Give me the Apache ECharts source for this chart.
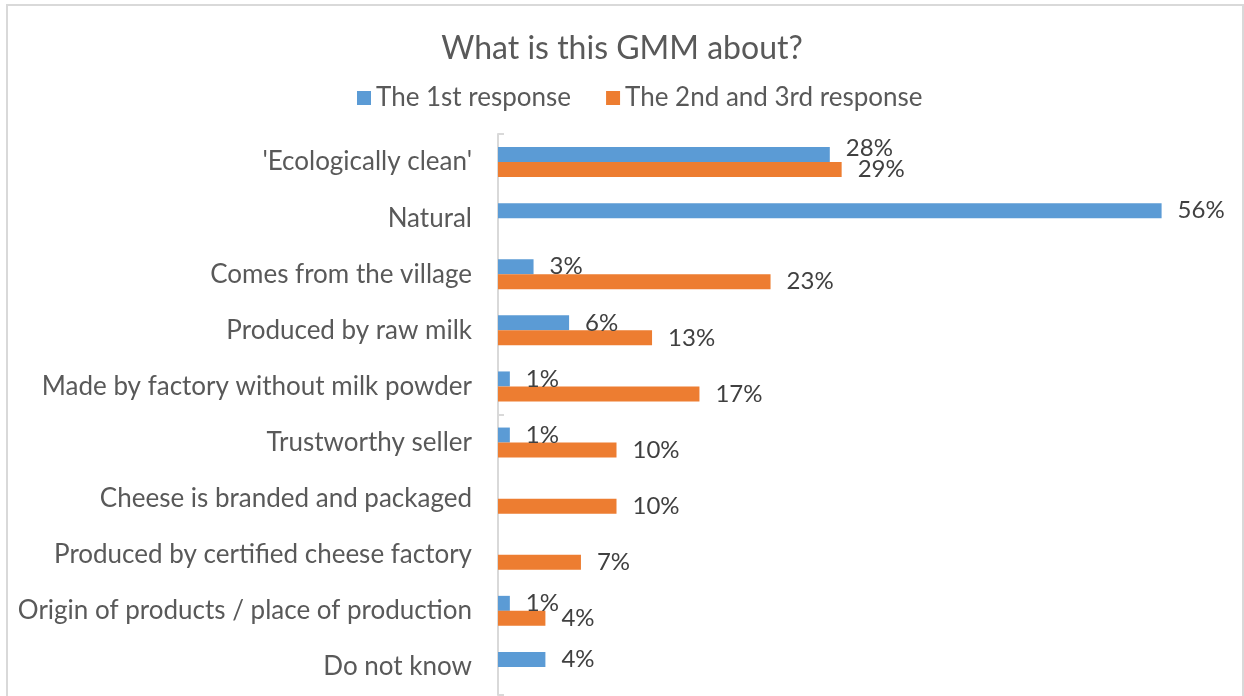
<!DOCTYPE html>
<html>
<head>
<meta charset="utf-8">
<title>What is this GMM about?</title>
<script src="https://cdn.jsdelivr.net/npm/echarts@6/dist/echarts.min.js"></script>
<style>
  html, body { margin: 0; padding: 0; background: #ffffff; }
  #chart { width: 1244px; height: 696px; }
</style>
</head>
<body>
<div id="chart"></div>
<script>
// Survey answers, top to bottom
const categories = [
  "'Ecologically clean'",
  'Natural',
  'Comes from the village',
  'Produced by raw milk',
  'Made by factory without milk powder',
  'Trustworthy seller',
  'Cheese is branded and packaged',
  'Produced by certified cheese factory',
  'Origin of products / place of production',
  'Do not know'
];

// Share of respondents, %
const firstResponse = [28, 56, 3, 6, 1, 1, null, null, 1, 4];
const secondThirdResponse = [29, null, 23, 13, 17, 10, 10, 7, 4, null];

const seriesNames = ['The 1st response', 'The 2nd and 3rd response'];

const FONT = 'Lato, "Noto Sans", sans-serif';
const TEXT = '#595959';

const chart = echarts.init(document.getElementById('chart'), null, { renderer: 'canvas' });

const valueLabel = {
  show: true,
  position: 'right',
  distance: 16,
  formatter: '{c}%',
  color: '#404040',
  fontFamily: FONT,
  fontSize: 24
};

// The first pair of labels sits close together; lift the upper one a little
const firstData = firstResponse.map((v, i) =>
  i === 0 ? { value: v, label: { offset: [0, -6] } } : v
);

chart.setOption({
  animation: false,
  backgroundColor: '#ffffff',
  graphic: [{
    type: 'rect',
    shape: { x: 7, y: 5, width: 1236, height: 720 },
    style: { fill: 'none', stroke: '#d9d9d9', lineWidth: 2 },
    silent: true
  }],
  title: {
    text: 'What is this GMM about?',
    left: 'center',
    top: 28,
    textStyle: { fontFamily: FONT, fontSize: 32, fontWeight: 'normal', color: TEXT }
  },
  legend: {
    data: seriesNames,
    top: 80,
    left: 352,
    itemWidth: 14,
    itemHeight: 14,
    itemGap: 35,
    icon: 'rect',
    textStyle: { fontFamily: FONT, fontSize: 26, color: TEXT }
  },
  grid: { left: 498, right: 35, top: 134, bottom: 1, containLabel: false },
  xAxis: {
    type: 'value',
    min: 0,
    max: 60,
    show: false
  },
  yAxis: {
    type: 'category',
    data: categories,
    inverse: true,
    axisLine: { show: true, lineStyle: { color: '#d9d9d9', width: 2 } },
    axisTick: { show: true, inside: true, length: 6, interval: 4, lineStyle: { color: '#d9d9d9', width: 2 } },
    axisLabel: { margin: 26, fontFamily: FONT, fontSize: 26, color: TEXT }
  },
  series: [
    {
      name: seriesNames[0],
      type: 'bar',
      data: firstData,
      barWidth: 15,
      barGap: '0%',
      itemStyle: { color: '#5b9bd5' },
      label: valueLabel
    },
    {
      name: seriesNames[1],
      type: 'bar',
      data: secondThirdResponse,
      barWidth: 15,
      barGap: '0%',
      itemStyle: { color: '#ed7d31' },
      label: valueLabel
    }
  ]
});
</script>
</body>
</html>
